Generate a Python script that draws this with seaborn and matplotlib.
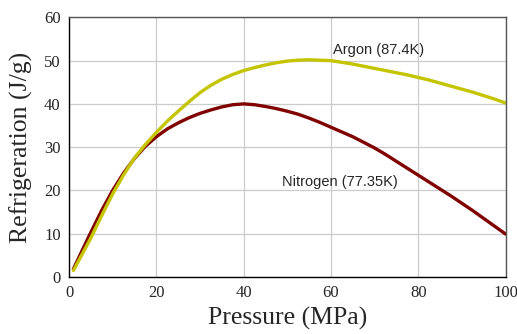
import numpy as np
import pandas as pd
import matplotlib
matplotlib.use("Agg")
import matplotlib.pyplot as plt
import seaborn as sns

# Values (Pressure in MPa, Refrigeration in J/g)
pressure = [1, 2.5, 5, 7.5, 10, 12.5, 15, 17.5, 20, 22.5, 25, 27.5, 30, 32.5, 35, 37.5,
            40, 42.5, 45, 47.5, 50, 52.5, 55, 57.5, 60, 62.5, 65, 67.5, 70, 72.5, 75,
            77.5, 80, 82.5, 85, 87.5, 90, 92.5, 95, 97.5, 100]
nitrogen = [1.8, 5.0, 10.3, 15.4, 20.0, 24.0, 27.4, 30.2, 32.4, 34.2, 35.6, 36.8, 37.8,
            38.6, 39.3, 39.8, 40.0, 39.8, 39.4, 38.9, 38.3, 37.6, 36.7, 35.7, 34.6, 33.5,
            32.4, 31.1, 29.8, 28.3, 26.7, 25.1, 23.5, 21.9, 20.3, 18.7, 17.0, 15.3, 13.5,
            11.7, 9.9]
argon = [1.5, 4.3, 9.0, 14.2, 19.2, 23.6, 27.5, 30.6, 33.4, 36.0, 38.3, 40.5, 42.6,
         44.3, 45.7, 46.8, 47.7, 48.4, 49.0, 49.5, 49.9, 50.1, 50.2, 50.1, 50.0, 49.6,
         49.2, 48.7, 48.2, 47.7, 47.2, 46.7, 46.1, 45.5, 44.8, 44.1, 43.4, 42.7, 41.9,
         41.1, 40.2]
x_ticks = [0, 20, 40, 60, 80, 100]
y_ticks = [0, 10, 20, 30, 40, 50, 60]

df = pd.DataFrame({
    "Pressure": pressure * 2,
    "Refrigeration": nitrogen + argon,
    "Gas": ["Nitrogen"] * len(pressure) + ["Argon"] * len(pressure),
})

sns.set_style("whitegrid")
plt.rcParams["font.family"] = ["Liberation Serif", "DejaVu Serif"]

fig = plt.figure(figsize=(5.17, 3.34), dpi=100)
ax = fig.add_axes([0.1335, 0.171, 0.8445, 0.777])

sns.lineplot(data=df, x="Pressure", y="Refrigeration", hue="Gas",
             palette={"Nitrogen": "#800000", "Argon": "#c4c400"},
             hue_order=["Nitrogen", "Argon"], linewidth=2.4, legend=False, ax=ax,
             solid_joinstyle="round", solid_capstyle="round")

ax.set_xlim(0, 100)
ax.set_ylim(0, 60)
ax.set_xticks(x_ticks)
ax.set_yticks(y_ticks)
ax.grid(True, color="#cccccc", linewidth=0.9)
ax.tick_params(axis="x", direction="in", length=4, width=0.8, labelsize=12, pad=6, color="black")
ax.tick_params(axis="y", direction="out", length=4, width=0.8, labelsize=12, pad=2, color="black")

for side in ["left", "bottom"]:
    ax.spines[side].set_color("black")
    ax.spines[side].set_linewidth(1.0)
for side in ["top", "right"]:
    ax.spines[side].set_color("#555555")
    ax.spines[side].set_linewidth(1.0)

ax.set_xlabel("Pressure (MPa)", fontsize=18.5, labelpad=4)
ax.set_ylabel("Refrigeration (J/g)", fontsize=18.5, labelpad=8)

ax.text(60.5, 52.5, "Argon (87.4K)", family="Liberation Sans", fontsize=10.5, va="center")
ax.text(48.7, 22.0, "Nitrogen (77.35K)", family="Liberation Sans", fontsize=10.5, va="center")

fig.savefig("out.png", dpi=100)
